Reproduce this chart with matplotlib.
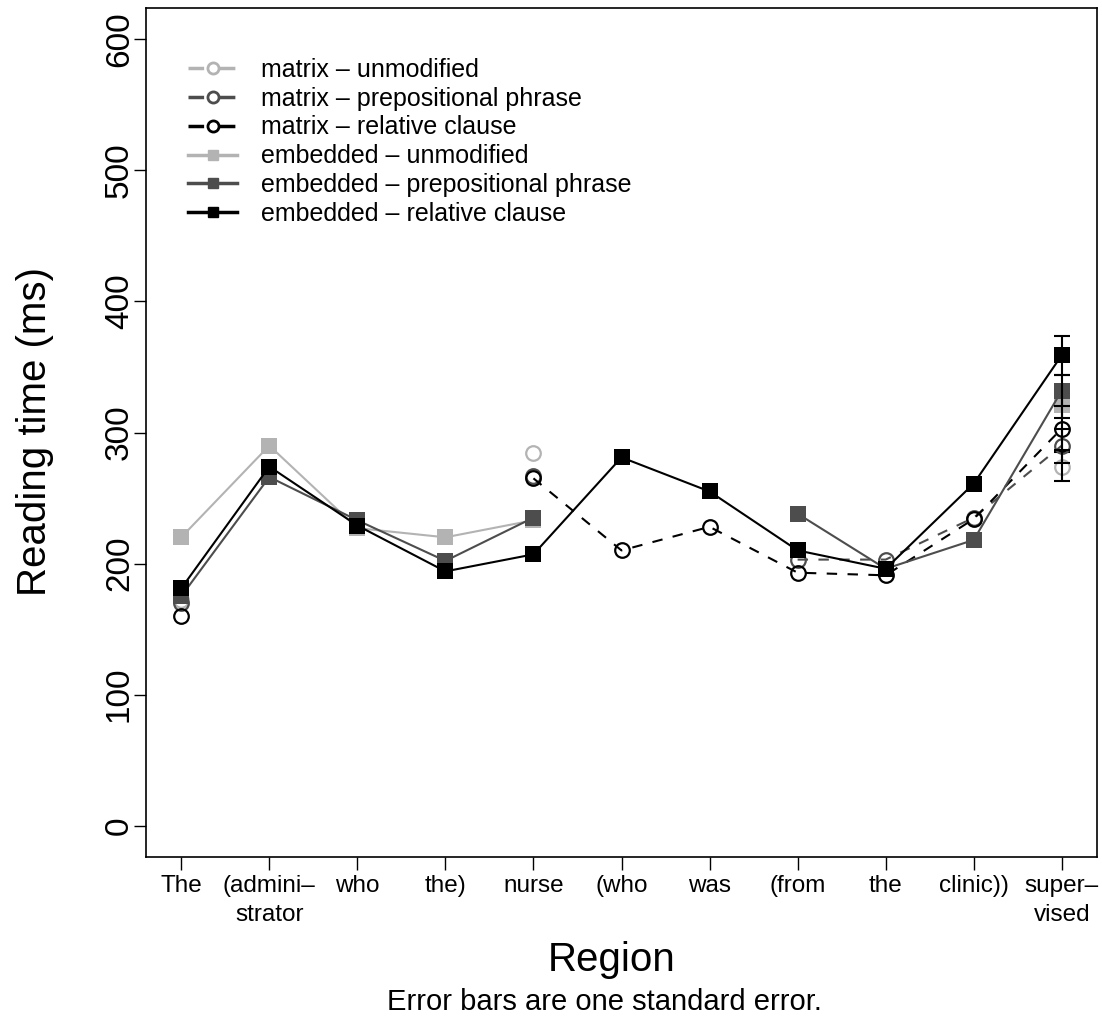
import numpy as np
import matplotlib
matplotlib.use('Agg')
import matplotlib.pyplot as plt
from matplotlib.lines import Line2D

plt.rcParams['font.family'] = ['Liberation Sans', 'DejaVu Sans']

nan = np.nan

# Regions of the sentence (x axis)
regions = ['The', '(admini–\nstrator', 'who', 'the)', 'nurse', '(who',
           'was', '(from', 'the', 'clinic))', 'super–\nvised']

# Mean reading times (ms) per region, NaN where a condition has no word
matrix_unmod = [172, nan, nan, nan, 284, nan, nan, nan, nan, nan, 274]
matrix_pp    = [170, nan, nan, nan, 267, nan, nan, 203, 203, 235, 290]
matrix_rc    = [160, nan, nan, nan, 265, 210, 228, 193, 191, 234, 303]
embed_unmod  = [220, 290, 227, 220, 233, nan, nan, nan, nan, nan, 321]
embed_pp     = [175, 266, 233, 202, 235, nan, nan, 238, 196, 218, 332]
embed_rc     = [181, 274, 229, 194, 207, 281, 255, 210, 196, 261, 359]

# Standard errors at the final region
se_last = {'matrix_unmod': 11, 'matrix_pp': 13, 'matrix_rc': 16,
           'embed_unmod': 10, 'embed_pp': 12, 'embed_rc': 15}

labels = ['matrix – unmodified', 'matrix – prepositional phrase',
          'matrix – relative clause', 'embedded – unmodified',
          'embedded – prepositional phrase', 'embedded – relative clause']

light, dark, black = '#B3B3B3', '#4D4D4D', '#000000'

series = [
    ('matrix_unmod', matrix_unmod, light, 'o'),
    ('matrix_pp', matrix_pp, dark, 'o'),
    ('matrix_rc', matrix_rc, black, 'o'),
    ('embed_unmod', embed_unmod, light, 's'),
    ('embed_pp', embed_pp, dark, 's'),
    ('embed_rc', embed_rc, black, 's'),
]

W, H = 1102, 1024
fig = plt.figure(figsize=(W / 100, H / 100), dpi=100)
ax = fig.add_axes([146 / W, (H - 857) / H, 951 / W, 849 / H])

x = np.arange(1, len(regions) + 1)

for key, vals, col, mk in series:
    vals = np.array(vals, dtype=float)
    if mk == 'o':
        ax.plot(x, vals, color=col, linestyle=(0, (5, 5)), linewidth=1.5,
                marker='o', markersize=10.5, markerfacecolor='none',
                markeredgecolor=col, markeredgewidth=1.6)
    else:
        ax.plot(x, vals, color=col, linestyle='-', linewidth=1.5,
                marker='s', markersize=11, markerfacecolor=col,
                markeredgecolor=col, markeredgewidth=0)
    ax.errorbar(x[-1], vals[-1], yerr=se_last[key], fmt='none',
                ecolor=black, elinewidth=1.5, capsize=5.8, capthick=1.5)

ax.set_xlim(0.6, 11.4)
ax.set_ylim(-24, 624)
ax.set_yticks(range(0, 601, 100))
ax.set_xticks(x)
ax.set_xticklabels(regions, fontsize=17.5, va='top', linespacing=1.4)
for lab in ax.get_yticklabels():
    lab.set_rotation(90)
    lab.set_va('center')
    lab.set_fontsize(24)
ax.tick_params(axis='both', direction='out', length=9, width=1, color='black')
ax.tick_params(axis='x', pad=4)
ax.tick_params(axis='y', pad=-1)
for sp in ax.spines.values():
    sp.set_linewidth(1.2)

fig.text(35 / W, 1 - 432 / H, 'Reading time (ms)', fontsize=29,
         rotation=90, ha='center', va='center')
fig.text(612 / W, 1 - 960 / H, 'Region', fontsize=29, ha='center', va='center')
fig.text(604 / W, 1 - 1002 / H, 'Error bars are one standard error.',
         fontsize=21, ha='center', va='center')

handles = []
for key, vals, col, mk in series:
    if mk == 'o':
        handles.append(Line2D([], [], color=col, linestyle=(0, (4.5, 4.5)),
                              linewidth=2.5, marker='o', markersize=8,
                              markerfacecolor='white', markeredgecolor=col,
                              markeredgewidth=2))
    else:
        handles.append(Line2D([], [], color=col, linestyle='-', linewidth=2.5,
                              marker='s', markersize=6.5, markerfacecolor=col,
                              markeredgecolor=col))
ax.legend(handles, labels, loc='upper left', frameon=False, fontsize=18,
          bbox_to_anchor=(188 / W, 1 - 58 / H), bbox_transform=fig.transFigure,
          borderpad=0, borderaxespad=0, handlelength=1.96, handletextpad=0.95,
          labelspacing=0.19)

fig.savefig('out.png', dpi=100)
